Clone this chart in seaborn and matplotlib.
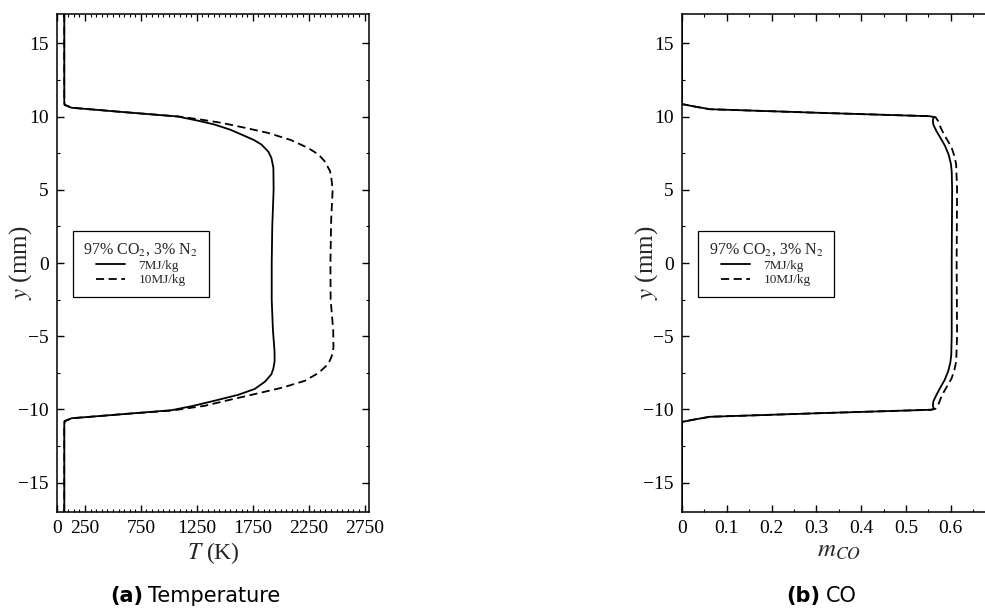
import numpy as np
import pandas as pd
import matplotlib
matplotlib.use("Agg")
import matplotlib.pyplot as plt
from matplotlib.lines import Line2D
from matplotlib.ticker import MultipleLocator, FixedLocator
import seaborn as sns

# ---------------- data ----------------
y_T7 = [17, 11.0, 10.8, 10.6, 10.3, 10.0, 9.7, 9.45, 9.1, 8.77, 8.4, 8.09, 7.6, 7.18, 6.5, 5.0,
        2.5, 0, -2.5, -4.6, -6.0, -6.7, -7.2, -7.6, -8.1, -8.6, -9.0, -9.4, -9.75, -10.05,
        -10.3, -10.6, -10.8, -11.0, -17]
T7 = [65, 65, 68, 130, 600, 1080, 1270, 1410, 1550, 1650, 1760, 1828, 1890, 1917, 1935, 1937,
      1925, 1920, 1920, 1931, 1945, 1946, 1935, 1917, 1860, 1768, 1620, 1410, 1220, 1024,
      620, 130, 68, 65, 65]

y_T10 = [17, 11.0, 10.8, 10.6, 10.3, 10.0, 9.8, 9.57, 9.2, 8.88, 8.4, 7.86, 7.4, 6.95, 6.3, 5.81,
         5.0, 3.0, 0, -2.5, -4.6, -5.8, -6.4, -6.9, -7.5, -8.04, -8.5, -8.95, -9.35, -9.75,
         -10.07, -10.3, -10.6, -10.8, -11.0, -17]
T10 = [65, 65, 68, 130, 600, 1090, 1280, 1470, 1700, 1887, 2090, 2244, 2340, 2393, 2440, 2453,
       2465, 2452, 2445, 2447, 2470, 2472, 2455, 2425, 2340, 2217, 2020, 1768, 1540, 1321,
       1030, 620, 130, 68, 65, 65]

y_CO7 = [17, 10.85, 10.7, 10.5, 10.25, 10.02, 9.95, 9.75, 9.45, 9.0, 8.54, 8.0, 7.41, 6.8, 6.27,
         5.0, 0, -5.0, -6.27, -6.8, -7.41, -8.0, -8.54, -9.0, -9.45, -9.75, -9.95, -10.02,
         -10.25, -10.5, -10.7, -10.85, -17]
CO7 = [0.0, 0.0, 0.025, 0.062, 0.31, 0.554, 0.562, 0.560, 0.561, 0.568, 0.577, 0.587, 0.595,
       0.600, 0.602, 0.603, 0.602, 0.602, 0.601, 0.599, 0.594, 0.586, 0.576, 0.568, 0.561,
       0.560, 0.562, 0.556, 0.31, 0.062, 0.025, 0.0, 0.0]

y_CO10 = [17, 10.85, 10.7, 10.5, 10.25, 10.02, 9.95, 9.68, 9.2, 8.77, 8.3, 7.86, 7.3, 6.73, 5.0,
          0, -5.0, -6.73, -7.3, -7.86, -8.3, -8.77, -9.2, -9.68, -9.95, -10.02, -10.25, -10.5,
          -10.7, -10.85, -17]
CO10 = [0.0, 0.0, 0.025, 0.062, 0.31, 0.556, 0.566, 0.572, 0.578, 0.585, 0.594, 0.602, 0.608,
        0.612, 0.614, 0.613, 0.614, 0.612, 0.608, 0.602, 0.594, 0.585, 0.578, 0.572, 0.566,
        0.556, 0.31, 0.062, 0.025, 0.0, 0.0]

series_labels = ["7MJ/kg", "10MJ/kg"]
legend_title = "97% CO$_2$, 3% N$_2$"
T_ticks = [0, 250, 750, 1250, 1750, 2250, 2750]
CO_ticks = [0, 0.1, 0.2, 0.3, 0.4, 0.5, 0.6]
y_ticks = [-15, -10, -5, 0, 5, 10, 15]

# ---------------- style ----------------
sns.set_theme(style="ticks")
plt.rcParams["font.family"] = ["Liberation Serif", "DejaVu Serif"]
plt.rcParams["mathtext.fontset"] = "stix"
plt.rcParams["axes.linewidth"] = 1.1
plt.rcParams["axes.edgecolor"] = "black"

W, H = 985, 610
fig = plt.figure(figsize=(W / 100, H / 100), dpi=100)

ax1 = fig.add_axes([57 / W, 1 - 512 / H, 312 / W, 498 / H])
ax2 = fig.add_axes([682 / W, 1 - 512 / H, 0.7 * 448 / W, 498 / H])


def draw(ax, x7, y7, x10, y10, ylab_x):
    sns.lineplot(x=x7, y=y7, sort=False, estimator=None, ax=ax, color="black",
                 linewidth=1.3, linestyle="-")
    sns.lineplot(x=x10, y=y10, sort=False, estimator=None, ax=ax, color="black",
                 linewidth=1.3, linestyle="--", dashes=False)
    ax.lines[-1].set_linestyle((0, (4.5, 2.5)))
    ax.set_ylim(-17, 17)
    ax.yaxis.set_major_locator(FixedLocator(y_ticks))
    ax.yaxis.set_minor_locator(MultipleLocator(2.5))
    ax.tick_params(which="both", direction="in", top=True, right=True, colors="black",
                   labelsize=14, labelcolor="black")
    ax.tick_params(which="major", length=5, width=1.0, pad=6)
    ax.tick_params(which="minor", length=2.5, width=0.8)
    ax.set_ylabel("$y$ (mm)", fontsize=18)
    ax.yaxis.set_label_coords(ylab_x, 0.5)
    handles = [Line2D([], [], color="black", lw=1.3, linestyle="-"),
               Line2D([], [], color="black", lw=1.3, linestyle=(0, (4.5, 2.5)))]
    leg = ax.legend(handles, series_labels, title=legend_title, loc="lower left",
                    bbox_to_anchor=(0.051, 0.432), borderaxespad=0, fancybox=False,
                    edgecolor="black", framealpha=1, fontsize=9.5, title_fontsize=11.5,
                    handlelength=2.2, handletextpad=1.0, borderpad=0.8,
                    labelspacing=0.15)
    leg.get_frame().set_linewidth(0.9)
    leg._legend_box.align = "center"
    for s in ax.spines.values():
        s.set_visible(True)
        s.set_color("black")


draw(ax1, T7, y_T7, T10, y_T10, -0.074)
ax1.set_xlim(0, 2790)
ax1.xaxis.set_major_locator(FixedLocator(T_ticks))
ax1.xaxis.set_minor_locator(MultipleLocator(50))
ax1.set_xticklabels([str(t) for t in T_ticks])
ax1.set_xlabel("$T$ (K)", fontsize=17, labelpad=2)

draw(ax2, CO7, y_CO7, CO10, y_CO10, -0.07)
ax2.set_xlim(0, 0.7)
ax2.xaxis.set_major_locator(FixedLocator(CO_ticks))
ax2.xaxis.set_minor_locator(MultipleLocator(0.05))
ax2.set_xticklabels(["0", "0.1", "0.2", "0.3", "0.4", "0.5", "0.6"])
ax2.set_xlabel("$m_{CO}$", fontsize=18, labelpad=2)

# captions
cap_y = 1 - 596 / H
cap_kw = dict(fontsize=15, va="center", family="DejaVu Sans", color="black")
fig.text(143 / W, cap_y, "(a)", ha="right", fontweight="bold", **cap_kw)
fig.text(148 / W, cap_y, "Temperature", ha="left", **cap_kw)
fig.text(820 / W, cap_y, "(b)", ha="right", fontweight="bold", **cap_kw)
fig.text(826 / W, cap_y, "CO", ha="left", **cap_kw)

fig.savefig("out.png", dpi=100, facecolor="white")
